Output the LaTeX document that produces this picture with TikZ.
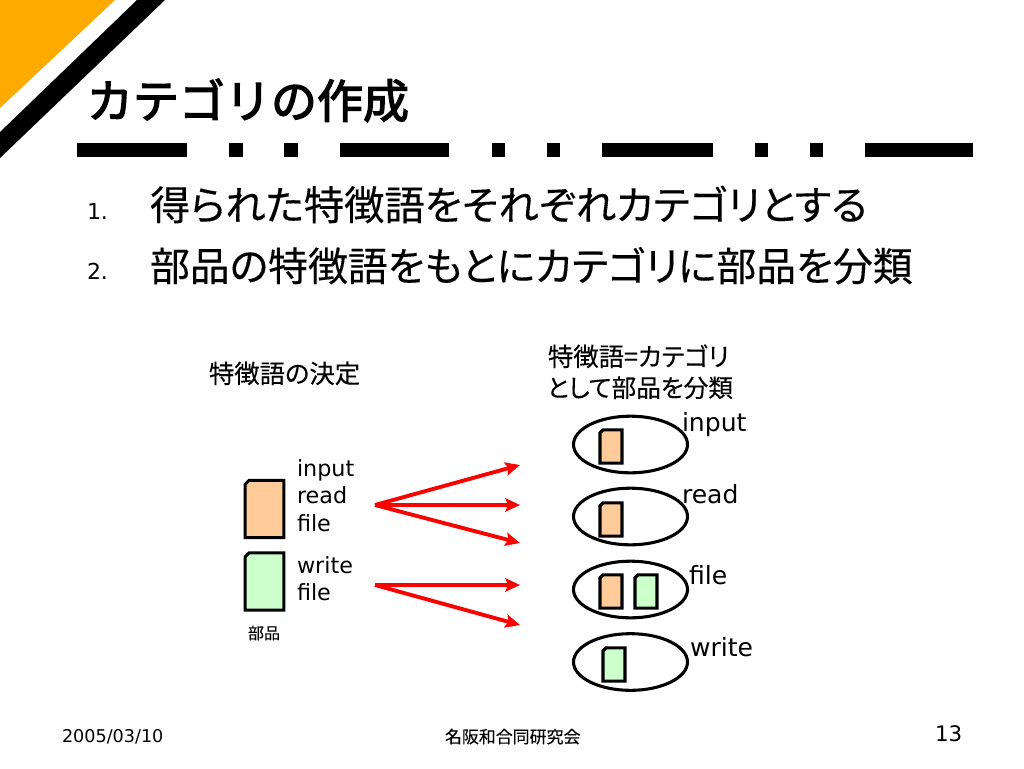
\documentclass[tikz,border=0pt]{standalone}
\usepackage{fontspec}
\setmainfont{DejaVu Sans}
\newfontfamily\cjk[FakeBold=0.25]{Noto Sans CJK JP}
\newfontfamily\cjkp[RawFeature=+palt,FakeBold=0.25]{Noto Sans CJK JP}
\newfontfamily\cjkt{Noto Sans CJK JP}
\usetikzlibrary{calc,shapes.geometric,arrows.meta}
\definecolor{peach}{HTML}{FFCC99}
\definecolor{mint}{HTML}{CCFFCC}
\definecolor{banner}{HTML}{FFAA00}
\tikzset{
  x=0.75pt,y=-0.75pt,
  txt/.style={anchor=base west,inner sep=0pt,outer sep=0pt,align=left},
  docbox/.style={rectangle,inner sep=0pt,outer sep=0pt},
  docline/.style={draw=black,line width=2.3pt,line join=miter},
  bigdoc/.style={docbox,minimum width=29pt,minimum height=43pt},
  smalldoc/.style={docbox,minimum width=16.5pt,minimum height=25pt},
  cat/.style={draw=black,line width=2.3pt,ellipse,minimum width=85.5pt,minimum height=42.5pt,inner sep=0pt},
  ray/.style={draw=red,line width=2.9pt,-{Stealth[length=11pt,width=10pt,inset=2pt]}},
  dashbar/.style={fill=black,draw=none},
  small/.style={txt,font=\fontsize{16.7pt}{20.5pt}\selectfont},
  catlab/.style={txt,font=\fontsize{18.8pt}{22pt}\selectfont},
  body/.style={txt,font=\fontsize{30pt}{36pt}\selectfont\cjkp},
  jp/.style={txt,font=\fontsize{18.8pt}{23pt}\selectfont\cjkp},
}
% outline of a page with a clipped top-left corner, over a node's box
\newcommand{\pageoutline}[3]{%
  \draw[docline,fill=#2] ($(#1.north west)+(#3,0)$) -- (#1.north east) -- (#1.south east) -- (#1.south west) -- ($(#1.north west)+(0,#3)$) -- cycle;}
\begin{document}
\begin{tikzpicture}
\useasboundingbox (0,0) rectangle (1024,768);
\fill[white] (0,0) rectangle (1024,768);
% banner
\fill[banner] (0,0) -- (115,0) -- (0,108) -- cycle;
\fill[black] (137,0) -- (165,0) -- (0,158) -- (0,132) -- cycle;
% title
\node[txt,font=\fontsize{34.5pt}{40pt}\selectfont\cjkt] (title) at (87,118) {\special{pdf:code q 2 Tr 1 w}カテゴリの作成\special{pdf:code Q}};
% dash-dot rule
\foreach \a/\b in {77/187,229/243,284/298,340/449,492/505,547/560,602/713,755/768,810/823,865/973}
  \fill[dashbar] (\a,143) rectangle (\b,157);
% list
\node[txt,font=\fontsize{16.5pt}{20pt}\selectfont] (n1) at (87,219) {1.};
\node[body,font=\fontsize{30.2pt}{36pt}\selectfont\cjkp] (l1) at (150,220) {得られた特徴語をそれぞれカテゴリとする};
\node[txt,font=\fontsize{16.5pt}{20pt}\selectfont] (n2) at (87,279) {2.};
\node[body,font=\fontsize{29.9pt}{36pt}\selectfont\cjkp] (l2) at (150,281) {部品の特徴語をもとにカテゴリに部品を分類};
% headings
\node[jp,font=\fontsize{19pt}{23pt}\selectfont\cjkp] (h1) at (209,383) {特徴語の決定};
\node[jp,font=\fontsize{19pt}{23pt}\selectfont\cjkp] (h2a) at (548,366) {特徴語=カテゴリ};
\node[jp,font=\fontsize{18.5pt}{23pt}\selectfont\cjkp] (h2b) at (547,397) {として部品を分類};
% parts
\node[bigdoc] (p1) at (264.5,509) {};
\pageoutline{p1}{peach}{4}
\node[bigdoc] (p2) at (264.5,581.5) {};
\pageoutline{p2}{mint}{4}
\node[small] (t1) at (297,476) {input};
\node[small] (t2) at (297,503) {read};
\node[small] (t3) at (297,531) {file};
\node[small] (t4) at (297,573) {write};
\node[small] (t5) at (297,600) {file};
\node[txt,font=\fontsize{12pt}{14pt}\selectfont\cjk] (bu) at (248,639) {部品};
% arrows
\coordinate (s1) at (375,505);
\coordinate (s2) at (375,585);
\coordinate (e1) at (520,465);
\coordinate (e2) at (520,505);
\coordinate (e3) at (520,543);
\coordinate (e4) at (520,585);
\coordinate (e5) at (520,625);
\draw[ray] (s1) -- (e1);
\draw[ray] (s1) -- (e2);
\draw[ray] (s1) -- (e3);
\draw[ray] (s2) -- (e4);
\draw[ray] (s2) -- (e5);
% categories
\node[cat] (c1) at (630.5,444.5) {};
\node[cat] (c2) at (630.5,516.5) {};
\node[cat] (c3) at (630.5,589.5) {};
\node[cat] (c4) at (630.5,662) {};
\node[smalldoc] (d1) at (611,446.5) {};
\pageoutline{d1}{peach}{3}
\node[smalldoc] (d2) at (611,519.5) {};
\pageoutline{d2}{peach}{3}
\node[smalldoc] (d3) at (611,591.5) {};
\pageoutline{d3}{peach}{3}
\node[smalldoc] (d4) at (646,591.5) {};
\pageoutline{d4}{mint}{3}
\node[smalldoc] (d5) at (614,664.5) {};
\pageoutline{d5}{mint}{3}
\node[catlab] (k1) at (682,431) {input};
\node[catlab] (k2) at (682,503) {read};
\node[catlab] (k3) at (689,584) {file};
\node[catlab] (k4) at (690,656) {write};
% footer
\node[txt,font=\fontsize{13.2pt}{15pt}\selectfont] (date) at (62,742) {2005/03/10};
\node[txt,font=\fontsize{12.7pt}{15pt}\selectfont\cjk] (org) at (445,743) {名阪和合同研究会};
\node[txt,font=\fontsize{16pt}{18pt}\selectfont] (page) at (935,741) {13};
\end{tikzpicture}
\end{document}
